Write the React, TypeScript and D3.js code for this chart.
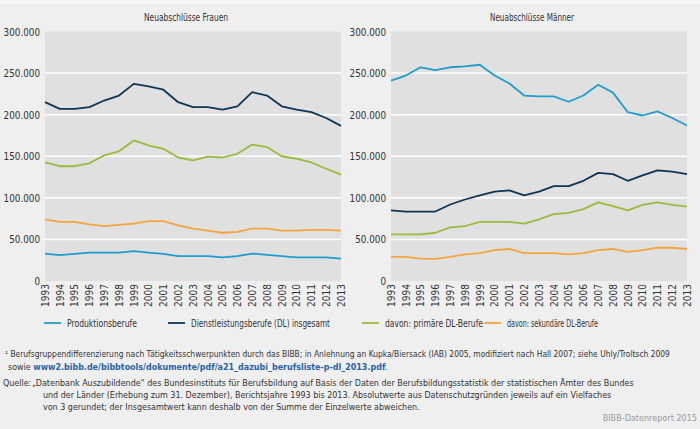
import React from "react";
import * as d3 from "d3";

// Neuabschlüsse nach Berufsgruppen, 1993–2013
const years = ["1993", "1994", "1995", "1996", "1997", "1998", "1999", "2000", "2001", "2002", "2003",
    "2004", "2005", "2006", "2007", "2008", "2009", "2010", "2011", "2012", "2013"];

const yTicks = [0, 50000, 100000, 150000, 200000, 250000, 300000];

// Frauen
const frauenProduktion = [33000, 31000, 32500, 34000, 34000, 34000, 36000, 34000, 32500, 30000, 30000,
    30000, 28500, 30000, 33000, 31500, 30000, 28500, 28500, 28500, 27000];
const frauenDL = [215000, 207000, 207000, 209000, 217000, 223000, 237000, 234000, 230000, 215000, 209000,
    209000, 206000, 210000, 227000, 223000, 210000, 206000, 203000, 196000, 186500];
const frauenPrimaer = [142500, 138000, 138000, 141500, 151000, 156000, 169000, 163000, 159000, 148500, 145000,
    149500, 148500, 153000, 164000, 161000, 150000, 147000, 142500, 135000, 128000];
const frauenSekundaer = [74000, 71000, 71000, 68000, 66000, 67500, 69000, 72000, 72000, 67000, 63000,
    60500, 58000, 59000, 63000, 63000, 60500, 60500, 61500, 61500, 60500];

// Männer
const maennerProduktion = [241000, 247000, 257000, 253500, 257000, 258000, 260000, 247000, 237500, 223000, 222000,
    222000, 215500, 223000, 236000, 226500, 203000, 199000, 204000, 196000, 187000];
const maennerDL = [85000, 83500, 83500, 83500, 92000, 98000, 103000, 107500, 109000, 103000, 107500,
    114000, 114000, 120500, 130000, 128500, 120500, 127000, 133000, 131500, 128500];
const maennerPrimaer = [56000, 56000, 56000, 58000, 64500, 66000, 71000, 71000, 71000, 69000, 74000,
    80500, 82000, 86500, 94500, 90000, 85000, 91500, 94500, 91500, 89500];
const maennerSekundaer = [29000, 29000, 27000, 26500, 29000, 32000, 33500, 37000, 38500, 33500, 33500,
    33500, 32000, 33500, 37000, 38500, 35000, 37000, 40000, 40000, 38500];

const seriesNames = ["Produktionsberufe", "Dienstleistungsberufe (DL) insgesamt", "davon: primäre DL-Berufe", "davon: sekundäre DL-Berufe"];
const seriesColors = ["#1e9dcf", "#0d3656", "#9bbb3c", "#f3a53c"];

const font = "'DejaVu Sans Condensed', 'Liberation Sans Narrow', sans-serif";

const W = 700;
const H = 429;
const plotTop = 31.5;
const plotBottom = 281;

const yScale = d3.scaleLinear().domain([0, 300000]).range([plotBottom, plotTop]);
const fmt = (v: number) => (v === 0 ? "0" : d3.format(",")(v).replace(/,/g, "."));

type PanelProps = {
    title: string;
    left: number;
    right: number;
    data: number[][];
};

const Panel: React.FC<PanelProps> = ({title, left, right, data}) => {
    const x = d3.scalePoint<string>().domain(years).range([left, right]);
    const line = d3
        .line<number>()
        .x((_, i) => x(years[i])!)
        .y((d) => yScale(d));

    return (
        <g>
            <text x={(left + right) / 2 - 7} y={21} textAnchor="middle" fontSize={10}
                  textLength={84} lengthAdjust="spacingAndGlyphs" fill="#333">
                {title}
            </text>
            <rect x={left} y={plotTop} width={right - left} height={plotBottom - plotTop} fill="#e0e0e0"/>
            {yTicks.slice(1, -1).map((t) => (
                <line key={t} x1={left} x2={right} y1={yScale(t)} y2={yScale(t)} stroke="#fff" strokeWidth={1.5}/>
            ))}
            {yTicks.map((t) => (
                <text key={t} x={left - 5} y={yScale(t) + 4} textAnchor="end" fontSize={9.8} fill="#333">
                    {fmt(t)}
                </text>
            ))}
            {years.map((yr) => (
                <text
                    key={yr}
                    transform={`translate(${x(yr)! + 3.8},${plotBottom + 3}) rotate(-90)`}
                    textAnchor="end"
                    fontSize={10}
                    fill="#333"
                >
                    {yr}
                </text>
            ))}
            {data.map((s, i) => (
                <path key={i} d={line(s) ?? ""} fill="none" stroke={seriesColors[i]} strokeWidth={1.8}
                      strokeLinejoin="round"/>
            ))}
        </g>
    );
};

const legendX = [44, 168, 362, 484];
const legendW = [70, 139, 98, 91];

export default function App() {
    return (
        <svg
            width={W}
            height={H}
            viewBox={`0 0 ${W} ${H}`}
            style={{position: "absolute", left: 0, top: 0, fontFamily: font}}
        >
            <rect width={W} height={H} fill="#efefef"/>
            <rect width={W} height={4} fill="#f6f6f6"/>
            <Panel title="Neuabschlüsse Frauen" left={45} right={341}
                   data={[frauenProduktion, frauenDL, frauenPrimaer, frauenSekundaer]}/>
            <Panel title="Neuabschlüsse Männer" left={391} right={687}
                   data={[maennerProduktion, maennerDL, maennerPrimaer, maennerSekundaer]}/>

            {seriesNames.map((n, i) => (
                <g key={n}>
                    <line x1={legendX[i]} x2={legendX[i] + 17} y1={323} y2={323} stroke={seriesColors[i]} strokeWidth={1.8}/>
                    <text x={legendX[i] + 23} y={326.5} fontSize={10} textLength={legendW[i]}
                          lengthAdjust="spacingAndGlyphs" fill="#333">{n}</text>
                </g>
            ))}

            <g fontSize={8.9} fill="#333">
                <text x={5} y={357} fontSize={8.4}>
                    ¹ Berufsgruppendifferenzierung nach Tätigkeitsschwerpunkten durch das BIBB; in Anlehnung an Kupka/Biersack (IAB) 2005, modifiziert nach Hall 2007; siehe Uhly/Troltsch 2009
                </text>
                <text x={8} y={369.5}>
                    sowie <tspan fill="#2a62ab" fontWeight="bold">www2.bibb.de/bibbtools/dokumente/pdf/a21_dazubi_berufsliste-p-dl_2013.pdf</tspan>.
                </text>
                <text x={3} y={385.5}>Quelle:</text>
                <text x={32} y={385.5}>
                    „Datenbank Auszubildende“ des Bundesinstituts für Berufsbildung auf Basis der Daten der Berufsbildungsstatistik der statistischen Ämter des Bundes
                </text>
                <text x={43} y={397.5}>
                    und der Länder (Erhebung zum 31. Dezember), Berichtsjahre 1993 bis 2013. Absolutwerte aus Datenschutzgründen jeweils auf ein Vielfaches
                </text>
                <text x={43} y={409.5}>
                    von 3 gerundet; der Insgesamtwert kann deshalb von der Summe der Einzelwerte abweichen.
                </text>
            </g>
            <text x={697} y={421} textAnchor="end" fontSize={9} fill="#9a9a9a">BIBB-Datenreport 2015</text>
        </svg>
    );
}
